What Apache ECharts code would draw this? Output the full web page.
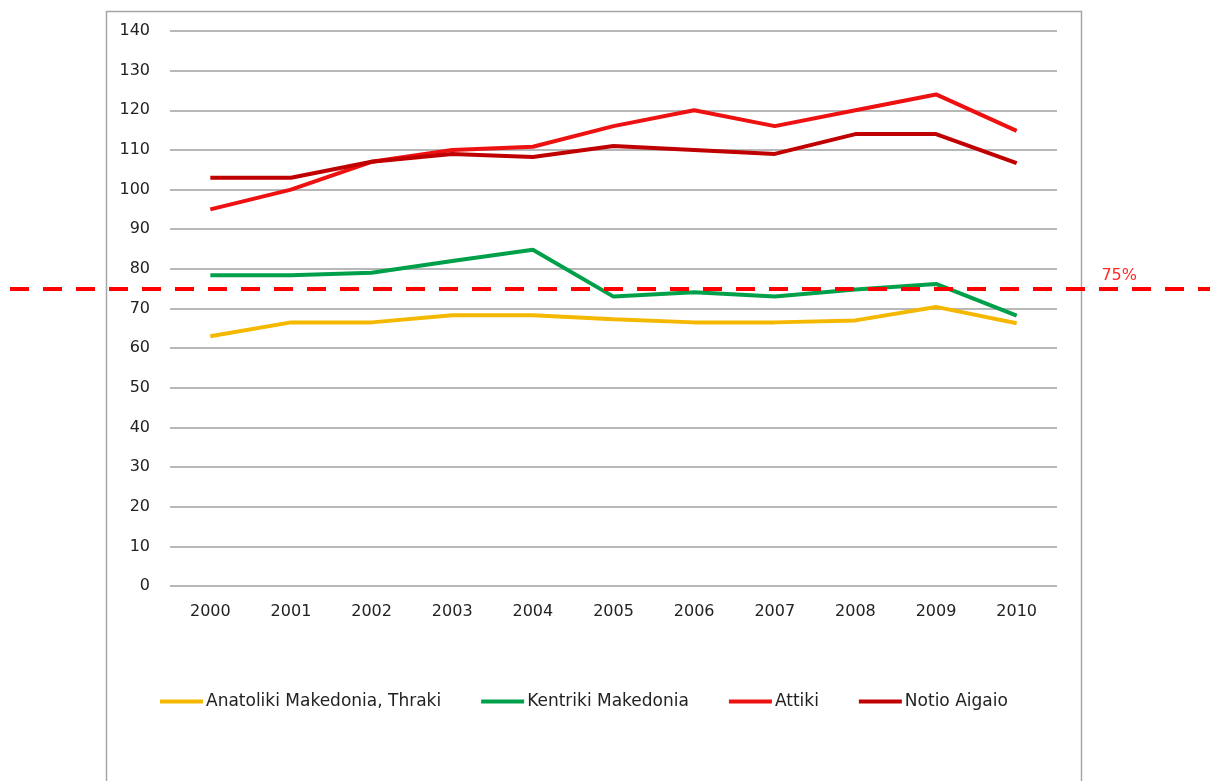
<!DOCTYPE html>
<html>
<head>
<meta charset="utf-8">
<script src="https://cdn.jsdelivr.net/npm/echarts@6/dist/echarts.min.js"></script>
<style>
	html, body { margin: 0; padding: 0; background: #fff; }
	#main { width: 1210px; height: 781px; }
</style>
</head>
<body>
<div id="main"></div>
<script>
const years = ["2000", "2001", "2002", "2003", "2004", "2005", "2006", "2007", "2008", "2009", "2010"];
const anatoliki = [63, 66.5, 66.5, 68.3, 68.3, 67.3, 66.5, 66.5, 67, 70.4, 66.3];
const kentriki = [78.4, 78.4, 79, 82, 84.8, 73, 74.1, 73, 74.8, 76.2, 68.2];
const attiki = [95, 100, 107, 110, 110.8, 116, 120, 116, 120, 124, 114.8];
const notio = [103, 103, 107, 109, 108.2, 111, 110, 109, 114, 114, 106.7];
const threshold = 75;

const chart = echarts.init(document.getElementById("main"));

const lineSeries = (name, data, color) => ({
	name: name,
	type: "line",
	data: data,
	symbol: "none",
	lineStyle: { color: color, width: 4 },
	itemStyle: { color: color },
	xAxisIndex: 0,
	yAxisIndex: 0,
});

const option = {
	backgroundColor: "#fff",
	animation: false,
	textStyle: { fontFamily: "DejaVu Sans" },
	graphic: [
		{
			type: "rect",
			left: 104,
			top: 9,
			shape: { width: 975, height: 800 },
			style: { fill: "none", stroke: "#a6a6a6", lineWidth: 1.5 },
			z: -1,
		},
	],
	legend: {
		bottom: 66,
		left: 155,
		itemWidth: 43,
		itemHeight: 4,
		itemGap: 40,
		icon: "rect",
		textStyle: { fontSize: 17, color: "#222", padding: [0, 0, 0, -2] },
		data: ["Anatoliki Makedonia, Thraki", "Kentriki Makedonia", "Attiki", "Notio Aigaio"],
	},
	grid: [
		{ left: 170, right: 153, top: 31, bottom: 195 },
		{ left: 10, right: 0, top: 31, bottom: 195 },
	],
	xAxis: [
		{
			type: "category",
			data: years,
			gridIndex: 0,
			boundaryGap: true,
			axisLine: { show: false },
			axisTick: { show: false },
			axisLabel: { color: "#222", fontSize: 16, margin: 18 },
		},
		{ type: "value", gridIndex: 1, min: 0, max: 1, show: false },
	],
	yAxis: [
		{
			type: "value",
			gridIndex: 0,
			min: 0,
			max: 140,
			interval: 10,
			axisLine: { show: false },
			axisTick: { show: false },
			axisLabel: { color: "#222", fontSize: 16, margin: 20 },
			splitLine: { lineStyle: { color: "#a0a0a0", width: 1.5 } },
		},
		{ type: "value", gridIndex: 1, min: 0, max: 140, show: false },
	],
	series: [
		lineSeries("Anatoliki Makedonia, Thraki", anatoliki, "#f5b800"),
		lineSeries("Kentriki Makedonia", kentriki, "#00a04a"),
		lineSeries("Attiki", attiki, "#ee1111"),
		lineSeries("Notio Aigaio", notio, "#c00000"),
		{
			name: "threshold",
			type: "line",
			xAxisIndex: 1,
			yAxisIndex: 1,
			data: [[0, threshold], [1, threshold]],
			symbol: "none",
			lineStyle: { opacity: 0 },
			z: 5,
			markLine: {
				silent: true,
				symbol: "none",
				lineStyle: { color: "#ff0000", width: 4, type: [19, 14] },
				label: {
					position: "insideEndTop",
					formatter: threshold + "%",
					color: "#ff2a2a",
					fontSize: 16,
					padding: [0, 68, 0, 0],
				},
				data: [{ yAxis: threshold }],
			},
		},
	],
};

chart.setOption(option);
</script>
</body>
</html>
